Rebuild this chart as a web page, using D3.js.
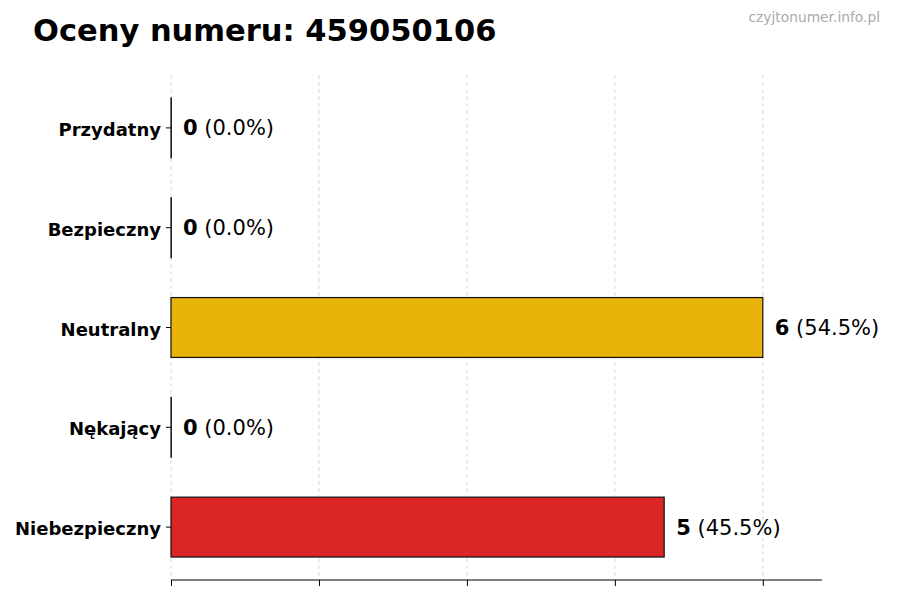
<!DOCTYPE html>
<html>
<head>
<meta charset="utf-8">
<script src="https://cdn.jsdelivr.net/npm/d3@7"></script>
<style>
  body { margin: 0; background: #fff; }
  text { font-family: "DejaVu Sans", sans-serif; }
</style>
</head>
<body>
<script>
const width = 900;
const height = 600;
const margin = { top: 75, right: 78, bottom: 20, left: 171 };

const categories = ["Przydatny", "Bezpieczny", "Neutralny", "Nękający", "Niebezpieczny"];
const counts = [0, 0, 6, 0, 5];
const percents = ["0.0%", "0.0%", "54.5%", "0.0%", "45.5%"];
const colors = ["#2e9e44", "#3b82c4", "#e8b40a", "#f07a1a", "#dc2626"];
const xTicks = [0, 1.5, 3, 4.5, 6];

const data = categories.map((c, i) => ({ name: c, value: counts[i], pct: percents[i], color: colors[i] }));

const svg = d3.select("body")
  .append("svg")
  .attr("width", width)
  .attr("height", height);

const x = d3.scaleLinear()
  .domain([0, d3.max(counts) * 1.1])
  .range([margin.left, width - margin.right]);

const y = d3.scaleBand()
  .domain(categories)
  .range([margin.top + 3, height - margin.bottom - 3])
  .paddingInner(0.4)
  .paddingOuter(0.2);

const plotBottom = height - margin.bottom;

// grid
svg.append("g")
  .selectAll("line")
  .data(xTicks)
  .join("line")
  .attr("x1", d => x(d))
  .attr("x2", d => x(d))
  .attr("y1", margin.top)
  .attr("y2", plotBottom)
  .attr("stroke", "#d0d0d0")
  .attr("stroke-width", 0.8)
  .attr("stroke-dasharray", "4,3");

// bars
svg.append("g")
  .selectAll("rect")
  .data(data)
  .join("rect")
  .attr("x", x(0))
  .attr("y", d => y(d.name))
  .attr("width", d => Math.max(x(d.value) - x(0), 0.3))
  .attr("height", y.bandwidth())
  .attr("fill", d => d.color)
  .attr("stroke", "#111")
  .attr("stroke-width", 1.2);

// value labels
const labels = svg.append("g")
  .selectAll("text")
  .data(data)
  .join("text")
  .attr("x", d => x(d.value) + 12)
  .attr("y", d => y(d.name) + y.bandwidth() / 2)
  .attr("dy", "0.36em")
  .attr("font-size", "21px")
  .attr("fill", "#000");

labels.append("tspan")
  .attr("font-weight", "bold")
  .text(d => d.value);
labels.append("tspan")
  .text(d => ` (${d.pct})`);

// x axis
const xAxis = svg.append("g")
  .attr("transform", `translate(0, ${plotBottom})`)
  .call(d3.axisBottom(x).tickValues(xTicks).tickFormat("").tickSizeOuter(0).tickSize(6));
xAxis.select(".domain").remove();
xAxis.append("line")
  .attr("x1", x.range()[0])
  .attr("x2", x.range()[1])
  .attr("stroke", "#000")
  .attr("stroke-width", 1);
xAxis.selectAll(".tick line").attr("stroke", "#000");

// y axis
const yAxis = svg.append("g")
  .attr("transform", `translate(${margin.left}, 0)`)
  .call(d3.axisLeft(y).tickSize(5).tickPadding(5));
yAxis.select(".domain").remove();
yAxis.selectAll(".tick line").attr("stroke", "#000");
yAxis.selectAll(".tick text")
  .attr("font-family", "DejaVu Sans, sans-serif")
  .attr("font-size", "18px")
  .attr("font-weight", "bold")
  .attr("dy", "0.45em")
  .attr("fill", "#000");

// title
svg.append("text")
  .attr("x", 33)
  .attr("y", 41)
  .attr("font-size", "30.5px")
  .attr("font-weight", "bold")
  .attr("fill", "#000")
  .text("Oceny numeru: 459050106");

svg.append("text")
  .attr("x", 880)
  .attr("y", 22)
  .attr("text-anchor", "end")
  .attr("font-size", "13.8px")
  .attr("fill", "#aaaaaa")
  .text("czyjtonumer.info.pl");
</script>
</body>
</html>
